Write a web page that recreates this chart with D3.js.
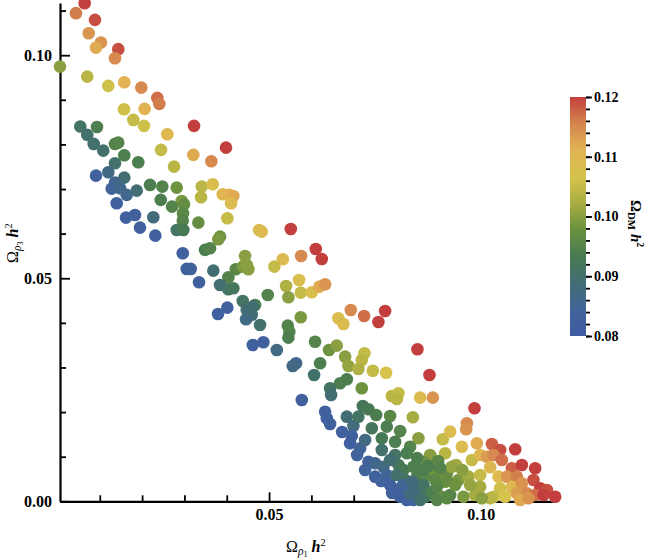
<!DOCTYPE html>
<html>
<head>
<meta charset="utf-8">
<script src="https://cdn.jsdelivr.net/npm/d3@7"></script>
<style>
  body { margin: 0; background: #fff; }
  svg text { font-family: "Liberation Serif", "DejaVu Serif", serif; fill: #000; }
</style>
</head>
<body>
<div id="chart"></div>
<script>
/*
 * rows: [Omega_rho1 h^2, Omega_rho3 h^2, Omega_DM h^2]
 */

// upper arm, near the Omega_rho3 axis
const upperArm = [
  [0.00643,0.11166,0.120],[0.00437,0.10942,0.116],[0.00887,0.10791,0.119],[0.00738,0.10493,0.114],
  [0.01028,0.10283,0.114],[0.00910,0.10170,0.112],[0.01437,0.10135,0.119],[0.01359,0.09933,0.115],
  [0.00060,0.09744,0.100],[0.00704,0.09520,0.104],[0.01201,0.09312,0.106],[0.01579,0.09395,0.111],
  [0.01981,0.09274,0.115],[0.02359,0.09043,0.117],[0.02407,0.08908,0.116],[0.01572,0.08789,0.106],
  [0.02060,0.08796,0.111],[0.01792,0.08549,0.105],[0.02045,0.08415,0.106],[0.03227,0.08415,0.120],
  [0.00539,0.08400,0.091],[0.00934,0.08392,0.094],[0.00704,0.08213,0.090],[0.02596,0.08229,0.110],
  [0.00856,0.08011,0.090],[0.01359,0.08011,0.095],[0.01437,0.08040,0.095],[0.03983,0.07928,0.120],
  [0.01083,0.07861,0.090],[0.02447,0.07877,0.105],[0.01579,0.07758,0.094],[0.03210,0.07765,0.112],
  [0.03636,0.07623,0.115],[0.01359,0.07578,0.090],[0.01910,0.07601,0.094],[0.02754,0.07502,0.104],
  [0.00910,0.07300,0.083],[0.01201,0.07377,0.087],[0.01579,0.07256,0.089],[0.01359,0.07143,0.086],
  [0.01281,0.07009,0.084],[0.01478,0.07018,0.086],[0.01636,0.06868,0.086],[0.01872,0.06964,0.089],
  [0.02187,0.07092,0.094],[0.02478,0.07054,0.095],[0.02818,0.07031,0.098],[0.03409,0.07054,0.104],
  [0.03669,0.07108,0.108],[0.03905,0.06883,0.110],[0.04061,0.06868,0.111],[0.04156,0.06845,0.112],
  [0.04102,0.06682,0.109],[0.03392,0.06816,0.104],[0.02440,0.06756,0.094],[0.02936,0.06733,0.099],
  [0.02990,0.06659,0.097],[0.02707,0.06605,0.095],[0.01400,0.06682,0.083],[0.01619,0.06359,0.083],
  [0.01832,0.06419,0.083],[0.02265,0.06368,0.088],[0.02967,0.06457,0.096],[0.02960,0.06291,0.095],
  [0.03329,0.06247,0.097],[0.04014,0.06345,0.105],[0.01950,0.06135,0.083],[0.02818,0.06083,0.091],
  [0.02974,0.06083,0.093],[0.02312,0.05955,0.082],[0.03842,0.05933,0.098],[0.03801,0.05874,0.099],
  [0.03487,0.05635,0.094],[0.03605,0.05673,0.095],[0.02960,0.05561,0.083],[0.04433,0.05500,0.100]
];

// middle of the band
const middleArm = [
  [0.03054,0.05209,0.083],[0.03149,0.05209,0.084],[0.03683,0.05170,0.089],[0.04213,0.05202,0.096],
  [0.04378,0.05260,0.099],[0.04511,0.05202,0.100],[0.04473,0.05298,0.100],[0.04038,0.05022,0.095],
  [0.03345,0.04910,0.083],[0.03842,0.04850,0.089],[0.04038,0.04753,0.091],[0.04156,0.04776,0.092],
  [0.04378,0.04491,0.091],[0.04669,0.04401,0.094],[0.04473,0.04289,0.089],[0.04591,0.04177,0.089],
  [0.04456,0.04081,0.087],[0.04787,0.03953,0.090],[0.04014,0.04341,0.083],[0.03794,0.04200,0.083],
  [0.04622,0.04363,0.089],[0.04764,0.06083,0.109],[0.04827,0.06045,0.109],[0.05513,0.06105,0.120],
  [0.06104,0.05657,0.120],[0.06246,0.05433,0.120],[0.05757,0.05500,0.115],[0.05324,0.05426,0.109],
  [0.05125,0.05260,0.105],[0.05709,0.04962,0.108],[0.05402,0.04827,0.103],[0.05456,0.04574,0.100],
  [0.05749,0.04677,0.105],[0.06009,0.04686,0.108],[0.06189,0.04812,0.112],[0.06324,0.04865,0.114],
  [0.04969,0.04626,0.095],[0.05749,0.04126,0.099],[0.06638,0.04103,0.108],[0.06931,0.04289,0.115],
  [0.07246,0.04155,0.117],[0.07742,0.04267,0.120],[0.07584,0.04020,0.120],[0.06757,0.03975,0.109]
];

// lower arm, towards the Omega_rho1 axis
const lowerArm = [
  [0.05442,0.03937,0.095],[0.05480,0.03803,0.095],[0.05456,0.03668,0.094],[0.04615,0.03504,0.083],
  [0.04865,0.03565,0.083],[0.05182,0.03392,0.087],[0.06087,0.03578,0.095],[0.06418,0.03392,0.098],
  [0.06600,0.03489,0.100],[0.06797,0.03242,0.100],[0.06875,0.03034,0.101],[0.07253,0.03318,0.105],
  [0.07191,0.03168,0.104],[0.07111,0.02966,0.103],[0.07452,0.02928,0.105],[0.07766,0.02883,0.107],
  [0.08506,0.03408,0.120],[0.08790,0.02832,0.120],[0.05638,0.03094,0.086],[0.05560,0.03034,0.087],
  [0.06206,0.03094,0.094],[0.06064,0.02832,0.090],[0.06837,0.02735,0.094],[0.06678,0.02646,0.094],
  [0.06442,0.02534,0.091],[0.06466,0.02383,0.089],[0.07191,0.02534,0.098],[0.05773,0.02271,0.083],
  [0.07900,0.02361,0.104],[0.08057,0.02422,0.105],[0.08019,0.02294,0.104],[0.08570,0.02323,0.109],
  [0.08870,0.02323,0.114],[0.07215,0.02137,0.092],[0.07348,0.02063,0.093],[0.07530,0.01935,0.094],
  [0.07860,0.01913,0.096],[0.08397,0.01883,0.102],[0.06324,0.02009,0.083],[0.06364,0.01861,0.083],
  [0.06442,0.01733,0.083],[0.06837,0.01897,0.089],[0.06993,0.01688,0.088],[0.07111,0.01897,0.091],
  [0.07428,0.01637,0.092],[0.07782,0.01673,0.094],[0.08097,0.01576,0.095],[0.08530,0.01413,0.100],
  [0.09106,0.01390,0.105],[0.09279,0.01561,0.109],[0.06955,0.01464,0.083],[0.06915,0.01300,0.082],
  [0.07151,0.01188,0.085],[0.07270,0.01374,0.087],[0.07664,0.01413,0.093],[0.07664,0.01150,0.090],
  [0.07979,0.01336,0.094],[0.08333,0.01224,0.095],[0.08255,0.01076,0.094],[0.08806,0.01038,0.100],
  [0.08648,0.00888,0.098],[0.09161,0.01076,0.104],[0.07348,0.00888,0.083],[0.07506,0.00852,0.086],
  [0.07702,0.00776,0.087],[0.08057,0.00814,0.092],[0.08175,0.00702,0.093],[0.08411,0.00776,0.094],
  [0.07506,0.00552,0.083],[0.07782,0.00590,0.085],[0.07860,0.00365,0.083],[0.08019,0.00590,0.090],
  [0.08215,0.00478,0.091],[0.08492,0.00552,0.094],[0.08728,0.00590,0.096],[0.08924,0.00664,0.098],
  [0.09121,0.00590,0.099],[0.09161,0.00439,0.098],[0.08097,0.00103,0.082],[0.08255,0.00029,0.083],
  [0.08411,0.00029,0.084],[0.08019,0.00253,0.083],[0.08255,0.00253,0.085],[0.08492,0.00253,0.088],
  [0.08648,0.00365,0.091],[0.08688,0.00103,0.092],[0.08846,0.00215,0.094],[0.08965,0.00327,0.095],
  [0.09083,0.00103,0.097],[0.08648,0.00702,0.094],[0.08924,0.00478,0.096],[0.09201,0.00628,0.097],
  [0.08333,0.00179,0.088],[0.08965,0.00029,0.095],[0.08570,0.00029,0.090],
  [0.06726,0.01554,0.083],[0.07080,0.01038,0.084],[0.07270,0.00702,0.084],[0.07648,0.00455,0.084],
  [0.07908,0.00186,0.083],[0.08168,0.00365,0.085],[0.08381,0.00433,0.088],[0.08759,0.00792,0.094],
  [0.08995,0.00904,0.096],[0.08499,0.00971,0.094],[0.07979,0.01038,0.091],[0.07860,0.00926,0.089]
];

// the warm tail at large Omega_rho1
const tailCluster = [
  [0.09854,0.02085,0.120],[0.09674,0.01749,0.115],[0.09657,0.01614,0.114],[0.09556,0.01224,0.109],
  [0.09910,0.01300,0.112],[0.10265,0.01285,0.118],[0.10461,0.01150,0.119],[0.10816,0.01166,0.120],
  [0.09421,0.00814,0.102],[0.09319,0.00776,0.101],[0.09792,0.00926,0.105],[0.09988,0.01038,0.110],
  [0.10147,0.01000,0.113],[0.10303,0.01038,0.115],[0.10501,0.00926,0.117],[0.10225,0.00762,0.110],
  [0.10738,0.00740,0.118],[0.10974,0.00814,0.120],[0.11288,0.00740,0.120],[0.09475,0.00478,0.099],
  [0.09712,0.00552,0.102],[0.09988,0.00590,0.105],[0.10421,0.00552,0.109],[0.10619,0.00552,0.114],
  [0.10856,0.00552,0.116],[0.11248,0.00478,0.119],[0.09988,0.00327,0.102],[0.10461,0.00291,0.106],
  [0.10738,0.00327,0.110],[0.10974,0.00404,0.114],[0.11407,0.00291,0.120],[0.11565,0.00253,0.119],
  [0.09279,0.00141,0.095],[0.09593,0.00103,0.099],[0.09870,0.00141,0.102],[0.10303,0.00103,0.105],
  [0.10579,0.00103,0.107],[0.10856,0.00179,0.113],[0.11092,0.00179,0.115],[0.11288,0.00141,0.117],
  [0.11485,0.00141,0.120],[0.11761,0.00103,0.120],[0.09201,0.00067,0.096],[0.10934,0.00029,0.112],
  [0.11130,0.00067,0.114],[0.10225,0.00067,0.104],[0.10028,0.00067,0.100],[0.09043,0.00747,0.095],
  [0.09201,0.00478,0.097],[0.09397,0.00365,0.098],[0.09752,0.00365,0.101],[0.09563,0.00702,0.100]
];

const xMajorTicks = [0.05, 0.10];
const xMinorTicks = [0.01, 0.02, 0.03, 0.04, 0.06, 0.07, 0.08, 0.09, 0.11];
const yMajorTicks = [0.00, 0.05, 0.10];
const yMinorTicks = [0.01, 0.02, 0.03, 0.04, 0.06, 0.07, 0.08, 0.09, 0.11];
const cbMajorTicks = [0.08, 0.09, 0.10, 0.11, 0.12];
const cbMinorTicks = d3.range(0.08, 0.1201, 0.002);

// colour bar stops (dark rainbow look)
const cbStopValues = [0.080, 0.0844, 0.0889, 0.0933, 0.0978, 0.1022, 0.1067, 0.1111, 0.1156, 0.120];
const cbStopColors = ["#3f5aa2", "#41649a", "#426e74", "#477a52", "#6a9140", "#a8ad42",
                      "#d6c34c", "#e1b353", "#d4844e", "#c33f3d"];

const W = 654, H = 560;

const svg = d3.select("#chart").append("svg").attr("width", W).attr("height", H);

const x = d3.scaleLinear().domain([0.0006, 0.1178]).range([60, 556]);
const y = d3.scaleLinear().domain([0, 0.1117]).range([501.3, 3]);
const color = d3.scaleLinear().domain(cbStopValues).range(cbStopColors);

function styleAxis(g, w) {
  g.selectAll("path.domain").attr("stroke", "#000").attr("stroke-width", w);
  g.selectAll(".tick line").attr("stroke", "#000").attr("stroke-width", 1.8);
  g.selectAll(".tick text")
    .style("font-family", '"Liberation Serif", serif')
    .style("font-size", "16px")
    .style("font-weight", "bold")
    .attr("fill", "#000");
}

/* x axis */
const gx = svg.append("g").attr("transform", "translate(0," + y(0) + ")")
  .call(d3.axisBottom(x).tickValues(xMajorTicks).tickFormat(d3.format(".2f"))
    .tickSizeInner(-9).tickSizeOuter(0).tickPadding(7));
styleAxis(gx, 2.2);

const gxm = svg.append("g").attr("transform", "translate(0," + y(0) + ")")
  .call(d3.axisBottom(x).tickValues(xMinorTicks).tickFormat("").tickSizeInner(-6).tickSizeOuter(0));
gxm.select("path.domain").remove();
styleAxis(gxm, 0);

/* y axis */
const gy = svg.append("g").attr("transform", "translate(" + x(0.0006) + ",0)")
  .call(d3.axisLeft(y).tickValues(yMajorTicks).tickFormat(d3.format(".2f"))
    .tickSizeInner(-10).tickSizeOuter(0).tickPadding(8));
styleAxis(gy, 2.2);

const gym = svg.append("g").attr("transform", "translate(" + x(0.0006) + ",0)")
  .call(d3.axisLeft(y).tickValues(yMinorTicks).tickFormat("").tickSizeInner(-6).tickSizeOuter(0));
gym.select("path.domain").remove();
styleAxis(gym, 0);

/* points */
const allPoints = [].concat(upperArm, middleArm, lowerArm, tailCluster);

svg.append("g").selectAll("circle").data(allPoints).enter()
  .append("circle")
  .attr("cx", d => x(d[0]))
  .attr("cy", d => y(d[1]))
  .attr("r", 6.3)
  .attr("fill", d => color(d[2]));

/* axis titles */
function omegaLabel(sel, sub, subItalic, sub2) {
  sel.append("tspan").text("Ω");
  sel.append("tspan").attr("dy", 3).attr("font-size", "0.72em")
    .attr("font-style", subItalic ? "italic" : "normal").text(sub);
  let back = 3;
  if (sub2) {
    sel.append("tspan").attr("dy", 2).attr("font-size", "0.52em").text(sub2);
    back = 5;
  }
  sel.append("tspan").attr("dy", -back).attr("dx", 4).attr("font-style", "italic")
    .attr("font-weight", "bold").text("h");
  sel.append("tspan").attr("dy", -6).attr("font-size", "0.65em").text("2");
}

const xTitle = svg.append("text").attr("x", 286).attr("y", 552).attr("font-size", 16);
omegaLabel(xTitle, "ρ", true, "1");

const yTitle = svg.append("text").attr("transform", "translate(18,263) rotate(-90)")
  .attr("font-size", 16);
omegaLabel(yTitle, "ρ", true, "3");

/* colour bar */
const cbTop = 97, cbBottom = 336, cbLeft = 570, cbWidth = 16;
const cb = d3.scaleLinear().domain([0.08, 0.12]).range([cbBottom, cbTop]);

const grad = svg.append("defs").append("linearGradient")
  .attr("id", "cbgrad").attr("x1", 0).attr("y1", 1).attr("x2", 0).attr("y2", 0);
grad.selectAll("stop").data(cbStopValues).enter().append("stop")
  .attr("offset", d => (d - 0.08) / 0.04)
  .attr("stop-color", d => color(d));

svg.append("rect")
  .attr("x", cbLeft).attr("y", cbTop)
  .attr("width", cbWidth).attr("height", cbBottom - cbTop)
  .attr("fill", "url(#cbgrad)");

const gc = svg.append("g").attr("transform", "translate(" + (cbLeft + cbWidth) + ",0)")
  .call(d3.axisRight(cb).tickValues(cbMajorTicks).tickFormat(d3.format(".2f"))
    .tickSizeInner(6).tickSizeOuter(0).tickPadding(2));
gc.select("path.domain").remove();
styleAxis(gc, 0);
gc.selectAll(".tick text").style("font-size", "14px");

const gcm = svg.append("g").attr("transform", "translate(" + (cbLeft + cbWidth) + ",0)")
  .call(d3.axisRight(cb).tickValues(cbMinorTicks).tickFormat("").tickSizeInner(4).tickSizeOuter(0));
gcm.select("path.domain").remove();
styleAxis(gcm, 0);

const cbTitle = svg.append("text").attr("transform", "translate(631,200) rotate(90)")
  .attr("font-size", 15).attr("font-weight", "bold");
omegaLabel(cbTitle, "DM", false, null);
</script>
</body>
</html>
